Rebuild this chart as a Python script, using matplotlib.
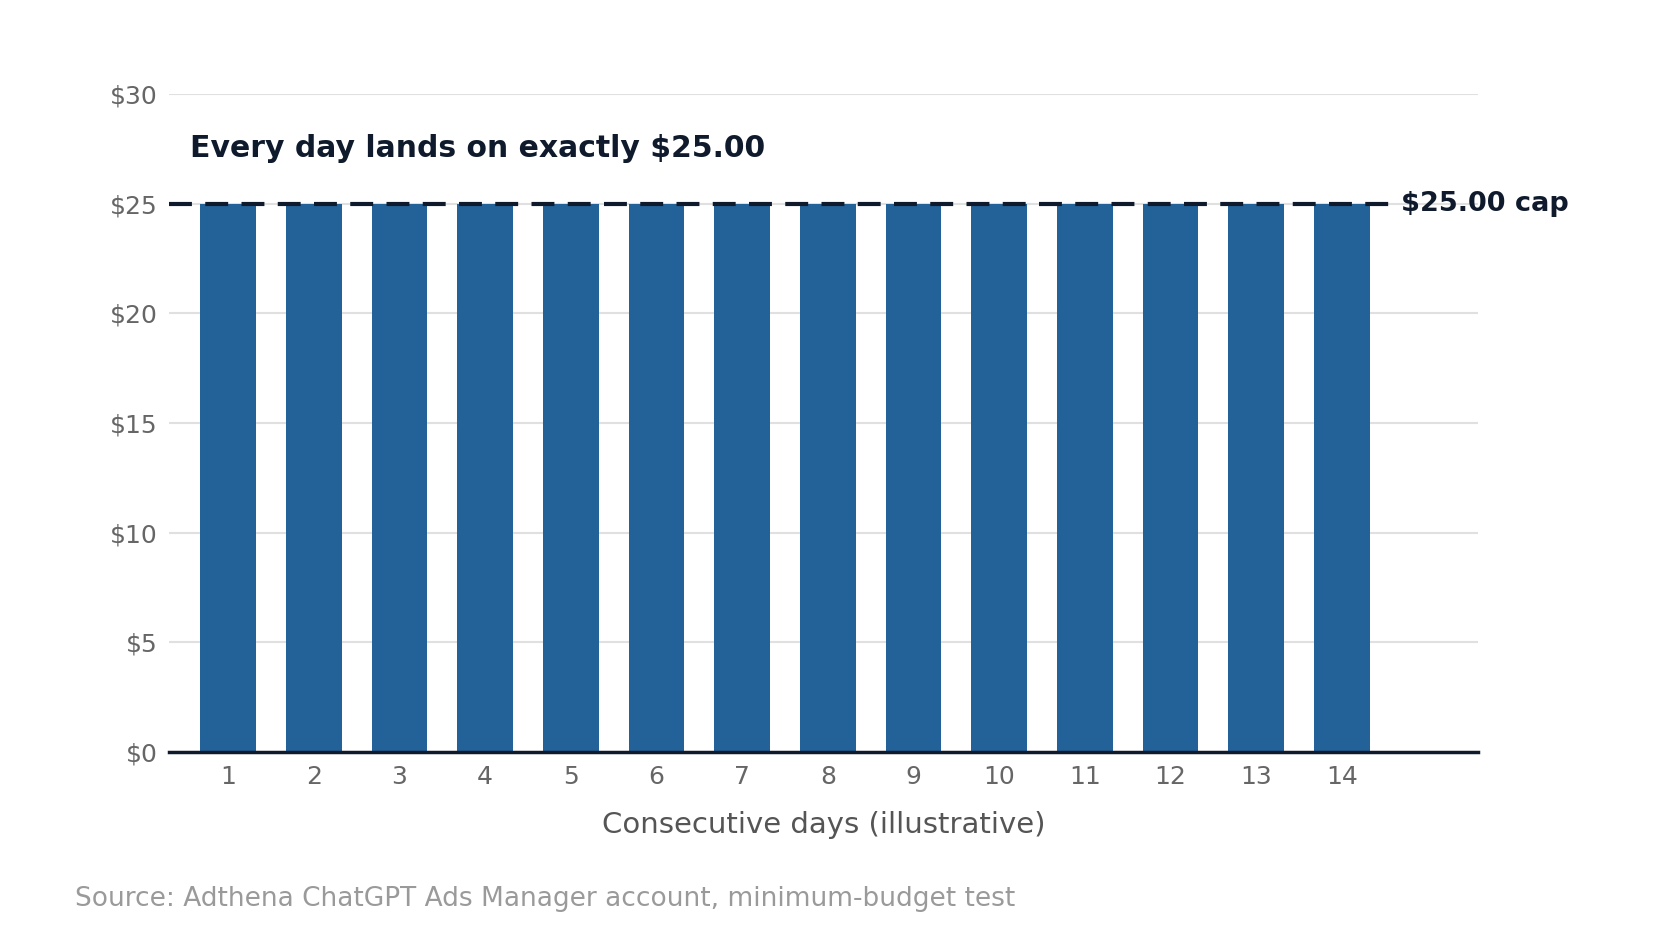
import matplotlib
matplotlib.use("Agg")
import matplotlib.pyplot as plt

# Data
days = list(range(1, 15))
spend = [25.00] * 14
cap = 25.00
yticks = [0, 5, 10, 15, 20, 25, 30]
ytick_labels = ["$" + str(v) for v in yticks]

plt.rcParams['font.family'] = ['DejaVu Sans']

bar_color = "#236299"
dark = "#0f1b2d"

fig = plt.figure(figsize=(16.8, 9.4), dpi=100)
ax = fig.add_axes([0.1006, 0.2, 0.7792, 0.7])

ax.bar(days, spend, width=0.65, color=bar_color, zorder=2)

# grid
ax.set_ylim(0, 30)
ax.set_xlim(0.31, 15.59)
ax.set_yticks(yticks)
ax.set_yticklabels(ytick_labels)
ax.yaxis.grid(True, color="#e0e0e0", linewidth=1.5, zorder=0)
ax.set_axisbelow(True)
ax.set_xticks(days)
ax.set_xticklabels([str(d) for d in days])
ax.tick_params(axis="both", length=0, labelsize=18, colors="#666666")
ax.tick_params(axis="y", pad=8)
ax.tick_params(axis="x", pad=9)

for s in ["top", "right", "left"]:
    ax.spines[s].set_visible(False)
ax.spines["bottom"].set_color(dark)
ax.spines["bottom"].set_linewidth(2.5)
ax.spines["bottom"].set_zorder(4)

# cap line
ax.plot([0.31, 14.6], [cap, cap], color=dark, linewidth=3,
        dashes=(5.5, 3.2), zorder=3, clip_on=False)
ax.text(14.69, cap, "$25.00 cap", fontsize=19.5, fontweight="semibold",
        color=dark, va="center", ha="left")

ax.set_xlabel("Consecutive days (illustrative)", fontsize=21, color="#555555",
              labelpad=16)

ax.text(0.55, 27.5, "Every day lands on exactly $25.00", fontsize=21.5,
        fontweight="semibold", color=dark, va="center", ha="left")

fig.text(0.0446, 0.044, "Source: Adthena ChatGPT Ads Manager account, minimum-budget test",
         fontsize=19, color="#9a9a9a", va="center", ha="left")

fig.savefig("out.png", dpi=100)
